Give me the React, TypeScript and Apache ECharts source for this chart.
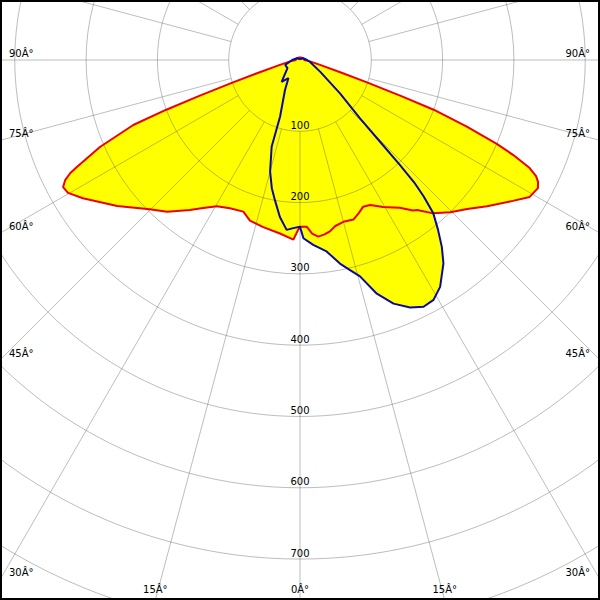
import React, { useEffect, useRef } from "react";
import * as echarts from "echarts";

// Polar luminous intensity diagram (cd/klm)
// angle in degrees measured from nadir (0 = down), positive = right half
const redAngles = [-180, -120, -90, -82, -76.5, -73, -71.5, -70.4, -69.6, -68.7, -66.5, -64.4, -63.8, -62.9, -61.8, -60.2, -57.5, -51.4, -45.2, -41.2, -36.3, -33.2, -29.6, -25.3, -20.5, -17.3, -12.4, -6.6, -2.1, -0.6, 0, 2.3, 4, 5.9, 8, 9.9, 12, 15, 18.5, 21, 23.3, 25.8, 29.5, 32.4, 34, 36.9, 38, 41, 44.6, 48.3, 52, 56.5, 59.2, 61.7, 62.9, 63.8, 64.8, 66, 66.9, 68.2, 69.6, 70.4, 71.5, 73, 76.5, 82, 90, 120, 180];
const redValues = [4, 5, 6, 14, 29, 60, 100, 150, 200, 251, 306, 347, 359, 370, 377, 375, 361, 328, 297, 283, 261, 248, 236, 230, 227, 236, 240, 245, 252, 238, 234, 234, 244, 249, 247, 244, 238, 235, 236, 230, 224, 226, 237, 245, 250, 264, 267, 285, 300, 314, 333, 358, 375, 379, 375, 369, 356, 327, 300, 252, 200, 150, 100, 60, 29, 14, 6, 5, 4];

const blueAngles = [-180, -120, -90, -71.6, -56.8, -40.1, -32.6, -26.6, -19.4, -18.1, -15, -12.4, -10.1, -7.3, -4.5, -2.3, 0, 1.1, 4.1, 7.9, 11.1, 13.4, 15.5, 18.2, 21, 24, 26.6, 29.1, 31.7, 35.2, 37.2, 39.1, 41, 42.2, 43, 43.6, 44.4, 45.8, 50.2, 59.7, 80, 90, 120, 180];
const blueValues = [1, 5, 11, 22, 21, 40, 30, 47, 84, 128, 162, 184, 200, 222, 239, 236, 234, 250, 260, 271, 291, 303, 315, 345, 366, 380, 387, 385, 374, 349, 329, 307, 285, 258, 235, 203, 160, 117, 73, 33, 14, 10, 5, 1];

const radiusTicks = [100, 200, 300, 400, 500, 600, 700];
const sideAngleLabels = [90, 75, 60, 45, 30];
const bottomAngleLabels = [-15, 0, 15];

const CX = 300;
const CY = 60;
const PX_PER_UNIT = 0.713;
const R_MAX = 900;
const INNER_UNITS = 100;
const DEG = "\u00C2\u00B0";

const FONT = "10px 'DejaVu Sans', sans-serif";

function pairs(angles: number[], values: number[]) {
  return angles.map((a, i) => [values[i], a]);
}

function textEl(text: string, x: number, y: number, align: string) {
  return {
    type: "text",
    x,
    y,
    z: 10,
    silent: true,
    style: {
      text,
      font: FONT,
      fill: "#000",
      align,
      verticalAlign: "middle",
      textAlign: align,
      textVerticalAlign: "middle",
    },
  };
}

export default function App() {
  const ref = useRef<HTMLDivElement>(null);

  useEffect(() => {
    if (!ref.current) return;
    const chart = echarts.init(ref.current, null, { renderer: "svg" });

    const redData = pairs(redAngles, redValues);
    const blueData = pairs(blueAngles, blueValues);
    const outerPx = R_MAX * PX_PER_UNIT;
    const gridColor = "rgba(90,90,90,0.4)";

    const graphics: any[] = [];
    radiusTicks.forEach((v) => {
      graphics.push(textEl(String(v), CX, CY + v * PX_PER_UNIT - 6, "center"));
    });
    sideAngleLabels.forEach((a) => {
      const rad = (a * Math.PI) / 180;
      const yHit = CY + (CX * Math.cos(rad)) / Math.sin(rad);
      graphics.push(textEl(a + DEG, 9, yHit - 7, "left"));
      graphics.push(textEl(a + DEG, 590, yHit - 7, "right"));
    });
    bottomAngleLabels.forEach((a) => {
      const rad = (a * Math.PI) / 180;
      const xHit = CX + (600 - CY) * Math.tan(rad);
      graphics.push(textEl(Math.abs(a) + DEG, xHit, 589, "center"));
    });
    graphics.push({
      type: "rect",
      z: 11,
      silent: true,
      shape: { x: 1, y: 1, width: 598, height: 598 },
      style: { fill: "none", stroke: "#000", lineWidth: 2 },
    });

    const hiddenAxis = {
      axisLine: { show: false },
      axisTick: { show: false },
      axisLabel: { show: false },
    };

    chart.setOption({
      animation: false,
      backgroundColor: "#ffffff",
      polar: [
        { center: [CX, CY], radius: [0, outerPx] },
        { center: [CX, CY], radius: [INNER_UNITS * PX_PER_UNIT, outerPx] },
      ],
      angleAxis: [
        {
          polarIndex: 0,
          type: "value",
          min: -180,
          max: 180,
          startAngle: 90,
          clockwise: false,
          splitLine: { show: false },
          ...hiddenAxis,
        },
        {
          polarIndex: 1,
          type: "value",
          min: 0,
          max: 360,
          interval: 15,
          startAngle: 90,
          z: 2,
          splitLine: { show: true, lineStyle: { color: gridColor, width: 1 } },
          ...hiddenAxis,
        },
      ],
      radiusAxis: [
        {
          polarIndex: 0,
          type: "value",
          min: 0,
          max: R_MAX,
          interval: 100,
          z: 2,
          splitLine: { show: true, lineStyle: { color: gridColor, width: 1 } },
          ...hiddenAxis,
        },
        {
          polarIndex: 1,
          type: "value",
          min: INNER_UNITS,
          max: R_MAX,
          splitLine: { show: false },
          ...hiddenAxis,
        },
      ],
      series: [
        {
          type: "line",
          coordinateSystem: "polar",
          polarIndex: 0,
          data: redData,
          showSymbol: false,
          silent: true,
          z: 1,
          lineStyle: { opacity: 0, width: 0 },
          areaStyle: { color: "#ffff00", opacity: 1 },
        },
        {
          type: "line",
          coordinateSystem: "polar",
          polarIndex: 0,
          data: blueData,
          showSymbol: false,
          silent: true,
          z: 1,
          lineStyle: { opacity: 0, width: 0 },
          areaStyle: { color: "#ffff00", opacity: 1 },
        },
        {
          type: "line",
          coordinateSystem: "polar",
          polarIndex: 0,
          data: redData,
          showSymbol: false,
          silent: true,
          z: 3,
          lineStyle: { color: "#ee0000", width: 2 },
        },
        {
          type: "line",
          coordinateSystem: "polar",
          polarIndex: 0,
          data: blueData,
          showSymbol: false,
          silent: true,
          z: 3,
          lineStyle: { color: "#0a0aa0", width: 2 },
        },
      ],
      graphic: graphics,
    });

    return () => chart.dispose();
  }, []);

  return (
    <div
      ref={ref}
      style={{ position: "fixed", left: 0, top: 0, width: 600, height: 600, background: "#fff" }}
    />
  );
}
